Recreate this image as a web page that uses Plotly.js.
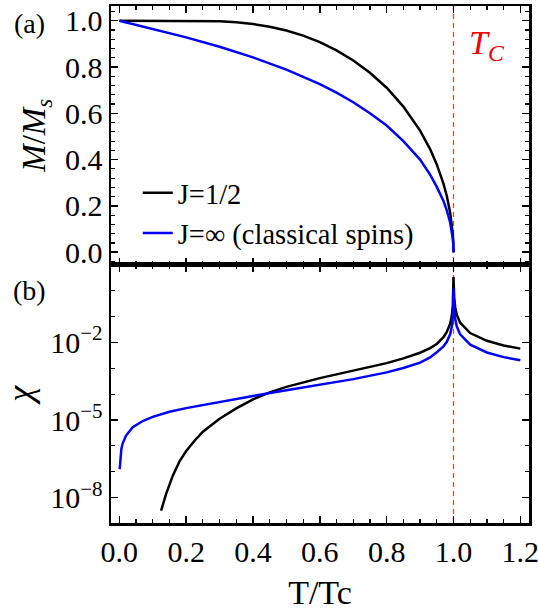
<!DOCTYPE html>
<html>
<head>
<meta charset="utf-8">
<script src="https://cdn.plot.ly/plotly-3.0.1.min.js"></script>
<style>html,body{margin:0;padding:0;background:#fff;}#chart{width:538px;height:614px;}</style>
</head>
<body>
<div id="chart"></div>
<script>
// ---- Panel (a): magnetization M/Ms vs T/Tc ----
const tM_half = [0, 0.1, 0.2, 0.3, 0.35, 0.4, 0.45, 0.5, 0.55, 0.6, 0.65, 0.7, 0.75, 0.8, 0.85, 0.9, 0.93, 0.95, 0.97, 0.98, 0.99, 0.995, 0.998, 0.9995, 1.0];
const M_half  = [1, 1, 0.9999, 0.9974, 0.9932, 0.9856, 0.974, 0.9575, 0.9355, 0.9073, 0.872, 0.8284, 0.7752, 0.7104, 0.6291, 0.5251, 0.4455, 0.3791, 0.2965, 0.2428, 0.172, 0.1219, 0.0773, 0.0387, 0];
const tM_inf  = [0, 0.1, 0.2, 0.3, 0.4, 0.5, 0.55, 0.6, 0.65, 0.7, 0.75, 0.8, 0.85, 0.9, 0.93, 0.95, 0.97, 0.98, 0.99, 0.995, 0.998, 0.9995, 1.0];
const M_inf   = [1, 0.9655, 0.928, 0.8873, 0.8416, 0.7889, 0.759, 0.726, 0.689, 0.648, 0.600, 0.547, 0.48, 0.40, 0.335, 0.282, 0.221, 0.181, 0.1285, 0.0908, 0.0576, 0.0288, 0];

// ---- Panel (b): susceptibility chi vs T/Tc ----
const tChi_half = [0.125, 0.14, 0.16, 0.18, 0.2, 0.225, 0.25, 0.3, 0.35, 0.4, 0.45, 0.5, 0.6, 0.7, 0.8, 0.85, 0.9, 0.93, 0.95, 0.97, 0.98, 0.99, 0.995, 0.998, 0.9995, 1.0, 1.0005, 1.002, 1.005, 1.01, 1.02, 1.05, 1.1, 1.15, 1.2];
const chi_half  = [3.16e-9, 1.41e-8, 7.08e-8, 2.51e-7, 6.31e-7, 1.58e-6, 3.55e-6, 1.12e-5, 2.82e-5, 6.31e-5, 1.17e-4, 1.91e-4, 4.17e-4, 7.94e-4, 1.58e-3, 2.40e-3, 3.98e-3, 6.03e-3, 8.71e-3, 1.58e-2, 2.51e-2, 5.25e-2, 0.107, 0.269, 1.12, 3.39, 2.29, 0.575, 0.229, 0.115, 0.0575, 0.0229, 0.0115, 7.59e-3, 5.75e-3];
const tChi_inf  = [0.001, 0.003, 0.006, 0.01, 0.02, 0.04, 0.07, 0.1, 0.15, 0.2, 0.3, 0.4, 0.5, 0.6, 0.7, 0.8, 0.85, 0.9, 0.93, 0.95, 0.97, 0.98, 0.99, 0.995, 0.998, 0.9995, 1.0, 1.0005, 1.002, 1.005, 1.01, 1.02, 1.05, 1.1, 1.15, 1.2];
const chi_inf   = [1.26e-7, 3.55e-7, 7.59e-7, 1.26e-6, 2.51e-6, 5.25e-6, 9.12e-6, 1.32e-5, 2.09e-5, 2.88e-5, 5.01e-5, 8.51e-5, 1.41e-4, 2.34e-4, 3.80e-4, 6.92e-4, 1.02e-3, 1.66e-3, 2.63e-3, 4.17e-3, 6.92e-3, 1.05e-2, 2.04e-2, 4.07e-2, 0.102, 0.407, 1.20, 0.813, 0.204, 0.0813, 0.0407, 0.0204, 8.13e-3, 4.07e-3, 2.69e-3, 2.04e-3];

// ---- labels ----
const seriesNames = ['J=1/2', 'J=\u221E (classical spins)'];
const xTickVals = [0, 0.2, 0.4, 0.6, 0.8, 1.0, 1.2];
const xTickText = ['0.0', '0.2', '0.4', '0.6', '0.8', '1.0', '1.2'];
const mTickVals = [0, 0.2, 0.4, 0.6, 0.8, 1.0];
const mTickText = ['0.0', '0.2', '0.4', '0.6', '0.8', '1.0'];
const chiTickVals = [1e-8, 1e-5, 1e-2];
const chiTickText = ['10<sup>\u22128</sup>', '10<sup>\u22125</sup>', '10<sup>\u22122</sup>'];
const chiMinorVals = [1e-9, 1e-8, 1e-7, 1e-6, 1e-5, 1e-4, 1e-3, 1e-2, 1e-1, 1];
const TcValue = 1.0;

const FONT = '"Liberation Serif", "Times New Roman", Times, serif';
const BLUE = 'rgb(0,0,255)';

const traces = [
  {x: tM_half, y: M_half, xaxis: 'x', yaxis: 'y', mode: 'lines', name: seriesNames[0], line: {color: '#000', width: 2.5}},
  {x: tM_inf, y: M_inf, xaxis: 'x', yaxis: 'y', mode: 'lines', name: seriesNames[1], line: {color: BLUE, width: 2.5}},
  {x: tChi_half, y: chi_half, xaxis: 'x2', yaxis: 'y2', mode: 'lines', name: seriesNames[0], line: {color: '#000', width: 2.5}, showlegend: false},
  {x: tChi_inf, y: chi_inf, xaxis: 'x2', yaxis: 'y2', mode: 'lines', name: seriesNames[1], line: {color: BLUE, width: 2.5}, showlegend: false}
];

const xRange = [-0.025, 1.226];
const minorX = {dtick: 0.05, tick0: 0, ticks: 'inside', ticklen: 4, tickwidth: 1.2, tickcolor: '#000'};
const axCommon = {
  showline: true, linecolor: '#000', linewidth: 2.5, mirror: 'allticks',
  ticks: 'inside', ticklen: 7, tickwidth: 1.5, tickcolor: '#000',
  showgrid: false, zeroline: false, ticklabeloverflow: 'allow',
  tickfont: {family: FONT, size: 30, color: '#000'}
};

const layout = {
  width: 538, height: 614,
  margin: {l: 111, r: 9, t: 6, b: 91},
  paper_bgcolor: '#fff', plot_bgcolor: '#fff',
  font: {family: FONT, color: '#000'},
  showlegend: true,
  legend: {x: 0.064, y: 0.687, xanchor: 'left', yanchor: 'top', bgcolor: 'rgba(0,0,0,0)',
           font: {family: FONT, size: 28.5, color: '#000'}, tracegroupgap: 0, itemwidth: 30},
  xaxis: Object.assign({}, axCommon, {domain: [0, 1], range: xRange, anchor: 'y', showticklabels: false,
           tickmode: 'array', tickvals: xTickVals, minor: minorX}),
  yaxis: Object.assign({}, axCommon, {domain: [0.5, 1], range: [-0.053, 1.0635], anchor: 'x',
           tickmode: 'array', tickvals: mTickVals, ticktext: mTickText,
           minor: {dtick: 0.04, tick0: 0, ticks: 'inside', ticklen: 4, tickwidth: 1.2, tickcolor: '#000'},
           title: {text: '<i>M</i>/<i>M</i><sub><i>s</i></sub>', font: {family: FONT, size: 33, color: '#000'}, standoff: 10}}),
  xaxis2: Object.assign({}, axCommon, {domain: [0, 1], range: xRange, anchor: 'y2',
           tickmode: 'array', tickvals: xTickVals, ticktext: xTickText, minor: minorX,
           title: {text: 'T/Tc', font: {family: FONT, size: 34, color: '#000'}, standoff: 14}}),
  yaxis2: Object.assign({}, axCommon, {domain: [0, 0.5], type: 'log', range: [-8.98, 1.01], anchor: 'x2',
           tickmode: 'array', tickvals: chiTickVals, ticktext: chiTickText,
           minor: {tickmode: 'array', tickvals: chiMinorVals, ticks: 'inside', ticklen: 4, tickwidth: 1.2, tickcolor: '#000'},
           title: {text: '<i>\u03C7</i>', font: {family: FONT, size: 36, color: '#000'}, standoff: 12}}),
  shapes: [
    {type: 'line', xref: 'x', yref: 'paper', x0: TcValue, x1: TcValue, y0: 0, y1: 1,
     line: {color: 'rgb(255,60,60)', width: 1.3, dash: '5px,4px'}, layer: 'below'}
  ],
  annotations: [
    {text: '(a)', xref: 'paper', yref: 'paper', x: -0.196, y: 0.967, xanchor: 'center', yanchor: 'middle', showarrow: false,
     font: {family: FONT, size: 28, color: '#000'}},
    {text: '(b)', xref: 'paper', yref: 'paper', x: -0.196, y: 0.449, xanchor: 'center', yanchor: 'middle', showarrow: false,
     font: {family: FONT, size: 28, color: '#000'}},
    {text: '<i>T</i><sub><i>C</i></sub>', xref: 'x', yref: 'paper', x: 1.1, y: 0.925, xanchor: 'center', yanchor: 'middle', showarrow: false,
     font: {family: FONT, size: 34, color: 'rgb(240,0,0)'}}
  ]
};

Plotly.newPlot('chart', traces, layout, {staticPlot: true, displayModeBar: false});
</script>
</body>
</html>
